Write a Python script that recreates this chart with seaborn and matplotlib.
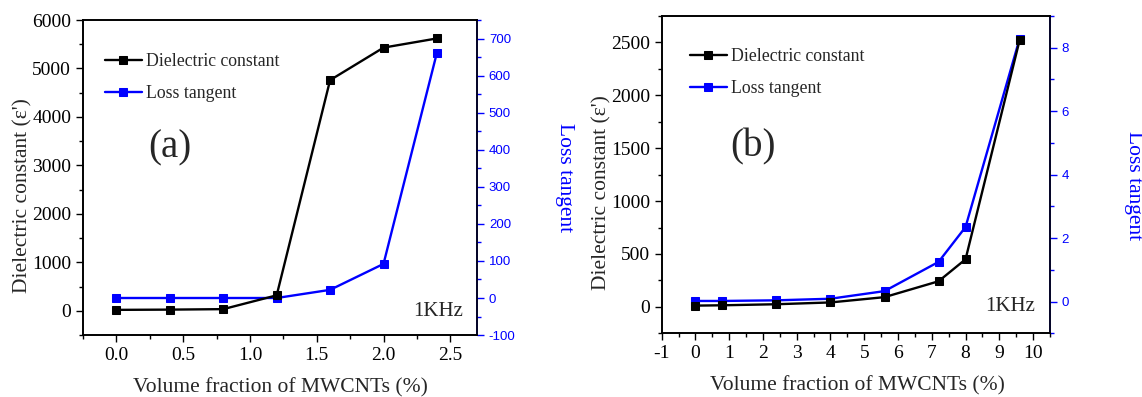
import matplotlib
matplotlib.use("Agg")
import matplotlib.pyplot as plt
from matplotlib.ticker import MultipleLocator
import seaborn as sns
import pandas as pd

# ---- data ----
x_a = [0.0, 0.4, 0.8, 1.2, 1.6, 2.0, 2.4]
diel_a = [20, 25, 35, 320, 4760, 5430, 5620]
loss_a = [0, 0, 0, 0, 22, 92, 662]

x_b = [0.0, 0.8, 2.4, 4.0, 5.6, 7.2, 8.0, 9.6]
diel_b = [12, 15, 25, 42, 92, 242, 450, 2520]
loss_b = [0.02, 0.02, 0.04, 0.09, 0.33, 1.25, 2.35, 8.28]

series_labels = ["Dielectric constant", "Loss tangent"]
panel_tags = ["(a)", "(b)"]
freq_label = "1KHz"
xlabel = "Volume fraction of MWCNTs (%)"
ylabel_left = "Dielectric constant (\u03b5')"
ylabel_right = "Loss tangent"

sns.set_theme(style="white")
plt.rcParams["font.family"] = ["Liberation Serif", "DejaVu Serif"]
plt.rcParams["axes.unicode_minus"] = False

BLUE = "#0000ff"
fig = plt.figure(figsize=(11.42, 3.97), dpi=100)

def panel(rect, x, diel, loss, xlim, ylim_l, ylim_r, xmaj, xmin, ylmaj, ylmin, yrmaj, yrmin,
          tag, tagpos, khzpos, leg_anchor, ylab_l_pos, ylab_r_pos, xlab_pos):
    ax = fig.add_axes(rect)
    ax2 = ax.twinx()
    df = pd.DataFrame({"x": x, "diel": diel, "loss": loss})
    sns.lineplot(data=df, x="x", y="diel", ax=ax, color="black", marker="s",
                 markersize=5.5, linewidth=1.7, markeredgecolor="black", legend=False)
    sns.lineplot(data=df, x="x", y="loss", ax=ax2, color=BLUE, marker="s",
                 markersize=5.5, linewidth=1.7, markeredgecolor=BLUE, legend=False)
    ax.set_xlim(*xlim)
    ax.set_ylim(*ylim_l)
    ax2.set_ylim(*ylim_r)
    ax.xaxis.set_major_locator(MultipleLocator(xmaj))
    ax.xaxis.set_minor_locator(MultipleLocator(xmin))
    ax.yaxis.set_major_locator(MultipleLocator(ylmaj))
    ax.yaxis.set_minor_locator(MultipleLocator(ylmin))
    ax2.yaxis.set_major_locator(MultipleLocator(yrmaj))
    ax2.yaxis.set_minor_locator(MultipleLocator(yrmin))
    for a in (ax, ax2):
        for s in a.spines.values():
            s.set_visible(True)
            s.set_color("black")
            s.set_linewidth(1.2)
    ax2.spines["right"].set_color(BLUE)
    ax.tick_params(axis="both", which="both", direction="out", top=False, right=False,
                   bottom=True, left=True, colors="black", labelsize=14, width=1.0)
    ax.tick_params(which="major", length=5)
    ax.tick_params(which="minor", length=3)
    ax2.tick_params(axis="y", which="both", direction="out", right=True, left=False,
                    colors=BLUE, labelcolor=BLUE, width=1.0)
    ax2.tick_params(axis="y", which="major", length=5, labelsize=9.5)
    ax2.tick_params(axis="y", which="minor", length=3)
    for lab in ax2.get_yticklabels():
        lab.set_family(["Liberation Sans", "DejaVu Sans"])
    ax.set_xlabel(xlabel, fontsize=15.5)
    ax.set_ylabel(ylabel_left, fontsize=15.5)
    ax2.set_ylabel(ylabel_right, fontsize=15.5, color=BLUE, rotation=270, va="center")
    ax.xaxis.set_label_coords(*xlab_pos)
    ax.yaxis.set_label_coords(*ylab_l_pos)
    ax2.yaxis.set_label_coords(*ylab_r_pos)
    ax.text(tagpos[0], tagpos[1], tag, transform=ax.transAxes, fontsize=28,
            ha="center", va="center")
    ax.text(khzpos[0], khzpos[1], freq_label, transform=ax.transAxes, fontsize=15,
            ha="right", va="center")
    handles = [ax.lines[0], ax2.lines[0]]
    ax.legend(handles, series_labels, loc="upper left", bbox_to_anchor=leg_anchor,
              frameon=False, fontsize=12.8, handlelength=2.1, handletextpad=0.2,
              labelspacing=0.85, borderaxespad=0, borderpad=0)
    ax.set_zorder(ax2.get_zorder() + 1)
    ax.patch.set_visible(False)
    return ax, ax2

panel([0.0727, 0.156, 0.345, 0.7936], x_a, diel_a, loss_a,
      (-0.25, 2.7), (-500, 6000), (-100, 750), 0.5, 0.25, 1000, 500, 100, 50,
      panel_tags[0], (0.22, 0.595), (0.965, 0.074), (0.055, 0.895),
      (-0.128, 0.444), (1.221, 0.5), (0.5, -0.136))

panel([0.5794, 0.1604, 0.34, 0.7993], x_b, diel_b, loss_b,
      (-1, 10.5), (-250, 2750), (-1, 9), 1, 0.5, 500, 250, 2, 1,
      panel_tags[1], (0.235, 0.587), (0.962, 0.084), (0.072, 0.9),
      (-0.128, 0.445), (1.214, 0.467), (0.503, -0.136))

fig.savefig("out.png", dpi=100)
